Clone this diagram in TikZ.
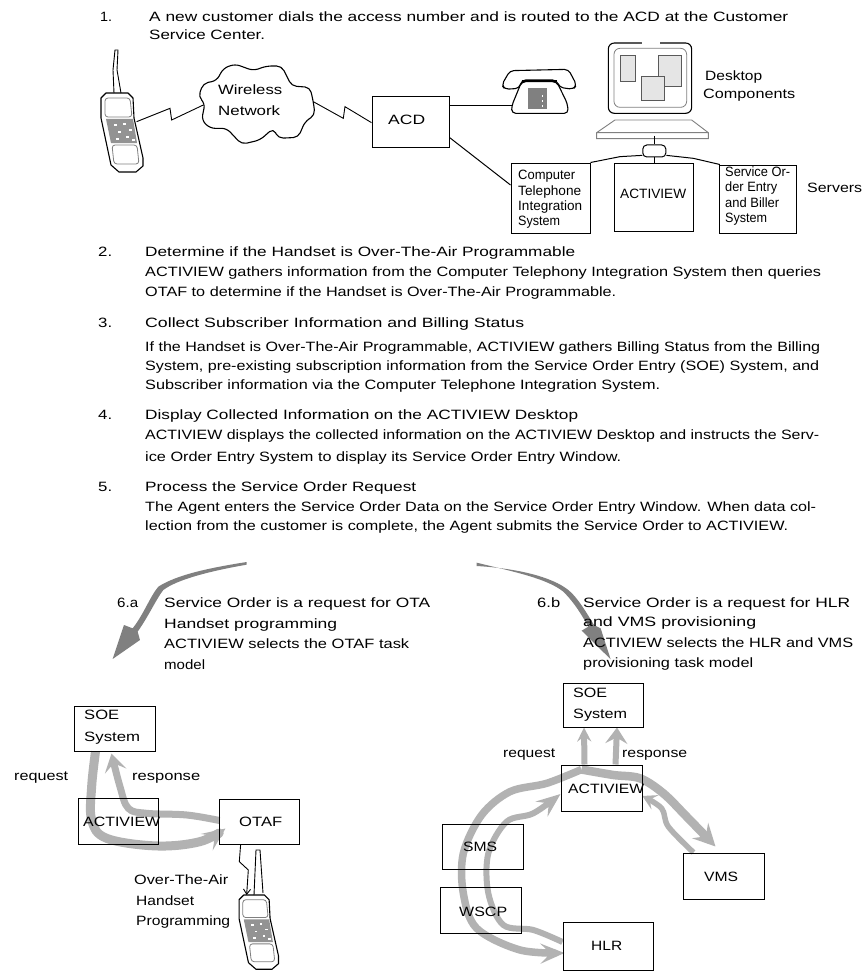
\documentclass[tikz,border=0pt]{standalone}
\usepackage{fontspec}
\usepackage{graphicx}
\setmainfont{Liberation Sans}
\usetikzlibrary{arrows.meta,calc,shapes.geometric}
\pgfdeclarelayer{bg}
\pgfsetlayers{bg,main}
\definecolor{dk}{gray}{0.5}
\definecolor{lt}{gray}{0.70}
\tikzset{
 box/.style={draw=black,line width=1pt,inner sep=0pt},
 txt/.style={inner sep=0pt,font=\fontsize{13.5}{15}\selectfont,text=black},
 line/.style={draw=black,line width=1pt},
 conn/.style={line width=#1,draw=lt,line join=round},
 big/.style={fill=dk},
 zoomA/.style={shift={(60,50)},x=0.3333pt,y=-0.3333pt},
 zoomB/.style={shift={(460,50)},x=0.3333pt,y=-0.3333pt},
 zoomC/.style={shift={(0,560)},x=0.3333pt,y=-0.3333pt},
 zoomD/.style={shift={(420,560)},x=0.3333pt,y=-0.3333pt},
}
% name, left x, middle y, right x, text: the line is fitted between the two x
\newcommand\tl[5]{\node[txt,anchor=base west] (#1) at (#2,{#3+4.5}) {\resizebox{\dimexpr\numexpr#4-#2\relax pt\relax}{\height}{#5}};}
% handset drawing, origin at the top left of its body, with a scale factor
\newcommand\handset[3]{%
 \begin{scope}[shift={(#1,#2)},x=#3pt,y=-#3pt]
  \draw[line width=1.1pt,line join=round] (-1,5) -- (4,0) -- (26,0) -- (31,5) -- (32,25) -- (41,65) -- (41,73) -- (34,79) -- (17,79) -- (9,72) -- (-1,25) -- cycle;
  \draw[draw=gray,line width=.8pt,rounded corners=3pt] (3,5) -- (28,5) -- (30,24) -- (3,24) -- cycle;
  \fill[gray!85] (4,26) -- (31,26) -- (35,50) -- (9,50) -- cycle;
  \foreach \a/\b in {12/31,21/30,27/36,16/38,24/43,14/45,30/46}{\fill[white] (\a,\b) rectangle ++(2.5,1.6);}
  \draw[draw=gray,line width=.8pt,rounded corners=3pt] (10,52) -- (35,52) -- (37,71) -- (12,71) -- cycle;
 \end{scope}}
\begin{document}
\begin{tikzpicture}[x=1pt,y=-1pt]
\useasboundingbox (0,0) rectangle (863,971);
\begin{pgfonlayer}{bg}
\fill[white] (0,0) rectangle (863,971);
\end{pgfonlayer}

% ---- top text
\tl{n1}{100}{17}{112}{1.}
\tl{p1a}{149}{17}{788}{A new customer dials the access number and is routed to the ACD at the Customer}
\tl{p1b}{149}{35}{265}{Service Center.}

% ---- top boxes
\node[box,minimum width=77pt,minimum height=50pt] (acd) at (410.5,122) {};
\tl{acdt}{388}{120}{425}{ACD}
\node[box,minimum width=79pt,minimum height=70pt] (cti) at (550.5,198) {};
\node[box,minimum width=79pt,minimum height=68pt] (act) at (653.5,197) {};
\node[box,minimum width=77pt,minimum height=68pt] (soe) at (757.5,199) {};
\tl{c1}{518}{175}{575}{Computer}
\tl{c2}{518}{191}{581}{Telephone}
\tl{c3}{518}{206}{582}{Integration}
\tl{c4}{518}{221}{560}{System}
\tl{c5}{620}{194}{686}{ACTIVIEW}
\tl{c6}{725}{172}{790}{Service Or-}
\tl{c7}{725}{187}{777}{der Entry}
\tl{c8}{725}{203}{779}{and Biller}
\tl{c9}{725}{218}{767}{System}
\tl{srv}{807}{188}{862}{Servers}
\tl{dk1}{705}{76}{762}{Desktop}
\tl{dk2}{703}{94}{795}{Components}

% ---- mobile handset, top
\handset{102}{93}{1}
\draw[line width=.9pt] (114,93) -- (113,70) -- (115,50) -- (118,50) -- (117,70) -- (121,93);

% ---- cloud
\begin{scope}[zoomA]
\draw[line width=1.1pt,line join=round,rounded corners=5pt] (415,140) -- (430,100) -- (470,92) -- (490,55) -- (525,42) -- (580,62) -- (620,48) -- (665,48) -- (695,108) -- (750,112) -- (760,155) -- (765,195) -- (735,215) -- (715,262) -- (655,265) -- (640,235) -- (600,270) -- (545,283) -- (500,235) -- (450,235) -- (425,210) -- (435,160) -- cycle;
\coordinate (cloudW) at (430,165);
\coordinate (cloudE) at (760,155);
\coordinate (phoneE) at (230,215);
\draw[line width=.9pt] (phoneE) -- (330,175) -- (335,210) -- (cloudW);
\draw[line width=.9pt] (cloudE) -- (850,205) -- (855,170) -- (acd.west |- 0,218);
\end{scope}
\tl{w1}{218}{90}{282}{Wireless}
\tl{w2}{218}{111}{280}{Network}

% ---- desk phone and computer
\begin{scope}[zoomB]
\draw[line width=1.1pt,line join=round,rounded corners=4pt] (125,105) -- (150,62) -- (325,58) -- (350,105) -- (340,118) -- (298,112) -- (290,90) -- (185,90) -- (178,115) -- (135,118) -- cycle;
\draw[line width=1.1pt,line join=round,rounded corners=4pt,fill=white] (185,95) -- (155,168) -- (155,190) -- (325,190) -- (322,160) -- (290,95) -- cycle;
\draw[line width=2pt] (185,92) -- (290,92);
\fill[dk] (205,115) rectangle (262,178);
\foreach \q in {135,150,165}{\fill[white] (246,\q) rectangle ++(4,5);}
\coordinate (deskW) at (155,168);
% monitor
\draw[line width=1.1pt,rounded corners=6pt] (445,-21) rectangle (695,190);
\draw[white,line width=2pt] (545,-21) -- (600,-21);
\draw[draw=gray,line width=.8pt,rounded corners=6pt] (462,-5) rectangle (680,172);
\draw[draw=gray!70!black,fill=gray!20,line width=.9pt] (480,15) rectangle (527,95);
\draw[draw=gray!70!black,fill=gray!20,line width=.9pt] (595,15) rectangle (665,110);
\draw[draw=gray!70!black,fill=gray!20,line width=.9pt] (545,78) rectangle (612,152);
\draw[draw=gray,line width=.9pt] (465,210) -- (695,210) -- (745,248) -- (745,266) -- (410,266) -- (410,248) -- cycle (410,248) -- (745,248);
\coordinate (base) at (583,258);
\node[draw=black,line width=1pt,minimum width=23pt,minimum height=12pt,rounded corners=4pt,inner sep=0pt] (hub) at (583,303) {};
\draw[line width=1pt] (base) -- (hub.north);
\draw[line width=1pt] (hub.south) -- (hub.south |- act.north);
\draw[line width=1pt] (hub.200) -- (480,320) -- (cti.north east);
\draw[line width=1pt] (hub.-20) -- (700,325) -- ($(soe.north west)+(4,0)$);
\end{scope}
\draw[line] (acd.north east |- deskW) -- (deskW);
\draw[line] ($(acd.south east)+(0,-10)$) -- ($(cti.west)+(0,-13)$);

% ---- paragraphs
\tl{n2}{98}{252}{112}{2.}
\tl{p2a}{145}{252}{575}{Determine if the Handset is Over-The-Air Programmable}
\tl{p2b}{145}{272}{821}{ACTIVIEW gathers information from the Computer Telephony Integration System then queries}
\tl{p2c}{145}{292}{616}{OTAF to determine if the Handset is Over-The-Air Programmable.}
\tl{n3}{98}{323}{112}{3.}
\tl{p3a}{145}{323}{524}{Collect Subscriber Information and Billing Status}
\tl{p3b}{145}{347}{820}{If the Handset is Over-The-Air Programmable, ACTIVIEW gathers Billing Status from the Billing}
\tl{p3c}{145}{366}{819}{System, pre-existing subscription information from the Service Order Entry (SOE) System, and}
\tl{p3d}{145}{385}{660}{Subscriber information via the Computer Telephone Integration System.}
\tl{n4}{98}{415}{112}{4.}
\tl{p4a}{145}{415}{578}{Display Collected Information on the ACTIVIEW Desktop}
\tl{p4b}{145}{435}{819}{ACTIVIEW displays the collected information on the ACTIVIEW Desktop and instructs the Serv-}
\tl{p4c}{145}{457}{621}{ice Order Entry System to display its Service Order Entry Window.}
\tl{n5}{98}{487}{112}{5.}
\tl{p5a}{145}{487}{416}{Process the Service Order Request}
\tl{p5b}{145}{507}{816}{The Agent enters the Service Order Data on the Service Order Entry Window. When data col-}
\tl{p5c}{145}{526}{788}{lection from the customer is complete, the Agent submits the Service Order to ACTIVIEW.}

% ---- big arrows
\begin{scope}[zoomC]
\fill[big] (740,6) .. controls (620,25) and (530,45) .. (475,80) .. controls (450,110) and (430,165) .. (398,205) -- (372,195) -- (338,297) -- (420,240) -- (413,215) .. controls (445,170) and (470,115) .. (490,90) .. controls (530,60) and (620,35) .. (740,14) -- cycle;
\end{scope}
\begin{scope}[zoomD]
\fill[big] (170,8) .. controls (280,35) and (380,55) .. (430,95) .. controls (465,130) and (485,165) .. (505,200) -- (485,212) -- (572,298) -- (542,205) -- (522,195) .. controls (495,150) and (470,110) .. (445,90) .. controls (395,50) and (290,25) .. (170,18) -- cycle;
\end{scope}

\tl{a0}{117}{603}{138}{6.a}
\tl{a1}{164}{603}{430}{Service Order is a request for OTA}
\tl{a2}{164}{624}{337}{Handset programming}
\tl{a3}{164}{644}{409}{ACTIVIEW selects the OTAF task}
\tl{a4}{164}{665}{205}{model}
\tl{b0}{537}{603}{560}{6.b}
\tl{b1}{583}{603}{850}{Service Order is a request for HLR}
\tl{b2}{583}{622}{756}{and VMS provisioning}
\tl{b3}{583}{643}{853}{ACTIVIEW selects the HLR and VMS}
\tl{b4}{583}{663}{753}{provisioning task model}

% ---- lower left
\node[box,minimum width=81pt,minimum height=45pt] (lsoe) at (114.5,728.5) {};
\node[box,minimum width=80pt,minimum height=46pt] (lact) at (118,821) {};
\node[box,minimum width=80pt,minimum height=45pt] (otaf) at (259,821.5) {};
\tl{l1}{84}{715}{119}{SOE}
\tl{l2}{84}{737}{140}{System}
\tl{l3}{83}{822}{160}{ACTIVIEW}
\tl{l4}{239}{822}{282}{OTAF}
\tl{l5}{14}{776}{68}{request}
\tl{l6}{132}{776}{200}{response}
\tl{l7}{134}{880}{228}{Over-The-Air}
\tl{l8}{136}{901}{194}{Handset}
\tl{l9}{136}{921}{230}{Programming}
\begin{pgfonlayer}{bg}
\coordinate (reqS) at ($(lsoe.south)+(-19,0)$);
\coordinate (reqE) at ($(otaf.west)+(7,7)$);
\coordinate (resS) at ($(otaf.west)+(1,-1)$);
\coordinate (resE) at ($(lsoe.south)+(-3,2)$);
\begin{scope}[zoomC]
\draw[conn=9pt,-{Stealth[length=23pt,width=20pt,inset=10pt]}] plot[smooth,tension=.6] coordinates {(reqS) (275,680) (275,780) (320,835) (470,858) (600,845) (reqE)};
\draw[conn=7pt,-{Stealth[length=18pt,width=22pt,inset=8pt]}] plot[smooth,tension=.6] coordinates {(resS) (560,765) (440,760) (385,745) (360,680) (resE)};
\end{scope}
\end{pgfonlayer}
\handset{240}{895}{0.94}
\draw[line width=.9pt] (254,895) -- (256,850) -- (260,850) -- (263,893);
\begin{scope}[zoomC]
\coordinate (otaS) at (722,852);
\coordinate (phTop) at (740,1005);
\draw[line width=.9pt,-{Straight Barb[length=5pt,width=7pt]}] (otaf.south -| otaS) -- (718,905) -- (745,930) -- (phTop);
\end{scope}

% ---- lower right
\node[box,minimum width=80pt,minimum height=44pt] (rsoe) at (603,705) {};
\node[box,minimum width=81pt,minimum height=46pt] (ract) at (601.5,788) {};
\node[box,minimum width=81pt,minimum height=45pt] (sms) at (482.5,846.5) {};
\node[box,minimum width=81pt,minimum height=46pt] (wscp) at (480.5,910) {};
\node[box,minimum width=90pt,minimum height=48pt] (hlr) at (608,946) {};
\node[box,minimum width=81pt,minimum height=46pt] (vms) at (723.5,876) {};
\tl{r1}{573}{693}{607}{SOE}
\tl{r2}{573}{714}{627}{System}
\tl{r3}{568}{789}{644}{ACTIVIEW}
\tl{r4}{463}{847}{497}{SMS}
\tl{r5}{459}{912}{507}{WSCP}
\tl{r6}{591}{946}{622}{HLR}
\tl{r7}{704}{877}{738}{VMS}
\tl{r8}{503}{753}{555}{request}
\tl{r9}{622}{753}{687}{response}
\begin{pgfonlayer}{bg}
\coordinate (upAS) at ($(ract.north)+(-17,0)$);
\coordinate (upAE) at ($(rsoe.south)+(-19,0)$);
\coordinate (upBS) at ($(ract.north)+(14,0)$);
\coordinate (upBE) at ($(rsoe.south)+(14,0)$);
\coordinate (hubR) at ($(ract.north)+(-20,5)$);
\coordinate (vmsE) at ($(vms.north)+(-8,-6)$);
\coordinate (vmsS) at ($(vms.north west)+(11,0)$);
\coordinate (actE) at ($(ract.east)+(0,8)$);
\coordinate (hlrE) at ($(hlr.west)+(2,7)$);
\coordinate (hlrS) at ($(hlr.west)+(0,-4)$);
\coordinate (actW) at ($(ract.west)+(0,6)$);
\begin{scope}[zoomD]
\draw[conn=6pt,-{Stealth[length=14pt,width=14pt,inset=5pt]}] (upAS) -- (upAE);
\draw[conn=6pt,-{Stealth[length=16pt,width=22pt,inset=6pt]}] (upBS) -- (upBE);
\draw[conn=8.5pt,-{Stealth[length=22pt,width=22pt,inset=8pt]}] plot[smooth,tension=.55] coordinates {(hubR) (580,645) (660,655) (730,700) (800,770) (vmsE)};
\draw[conn=5.5pt,-{Stealth[length=14pt,width=16pt,inset=6pt]}] plot[smooth,tension=.55] coordinates {(vmsS) (745,800) (725,745) (actE)};
\draw[conn=7.5pt,-{Stealth[length=24pt,width=20pt,inset=10pt]}] plot[smooth,tension=.55] coordinates {(hubR) (380,670) (270,695) (185,765) (130,880) (130,1000) (170,1105) (300,1170) (hlrE)};
\draw[conn=6pt,-{Stealth[length=24pt,width=19pt,inset=9pt]}] plot[smooth,tension=.55] coordinates {(hlrS) (340,1110) (250,1095) (205,1000) (205,880) (260,785) (340,760) (actW)};
\end{scope}
\end{pgfonlayer}
\end{tikzpicture}
\end{document}
